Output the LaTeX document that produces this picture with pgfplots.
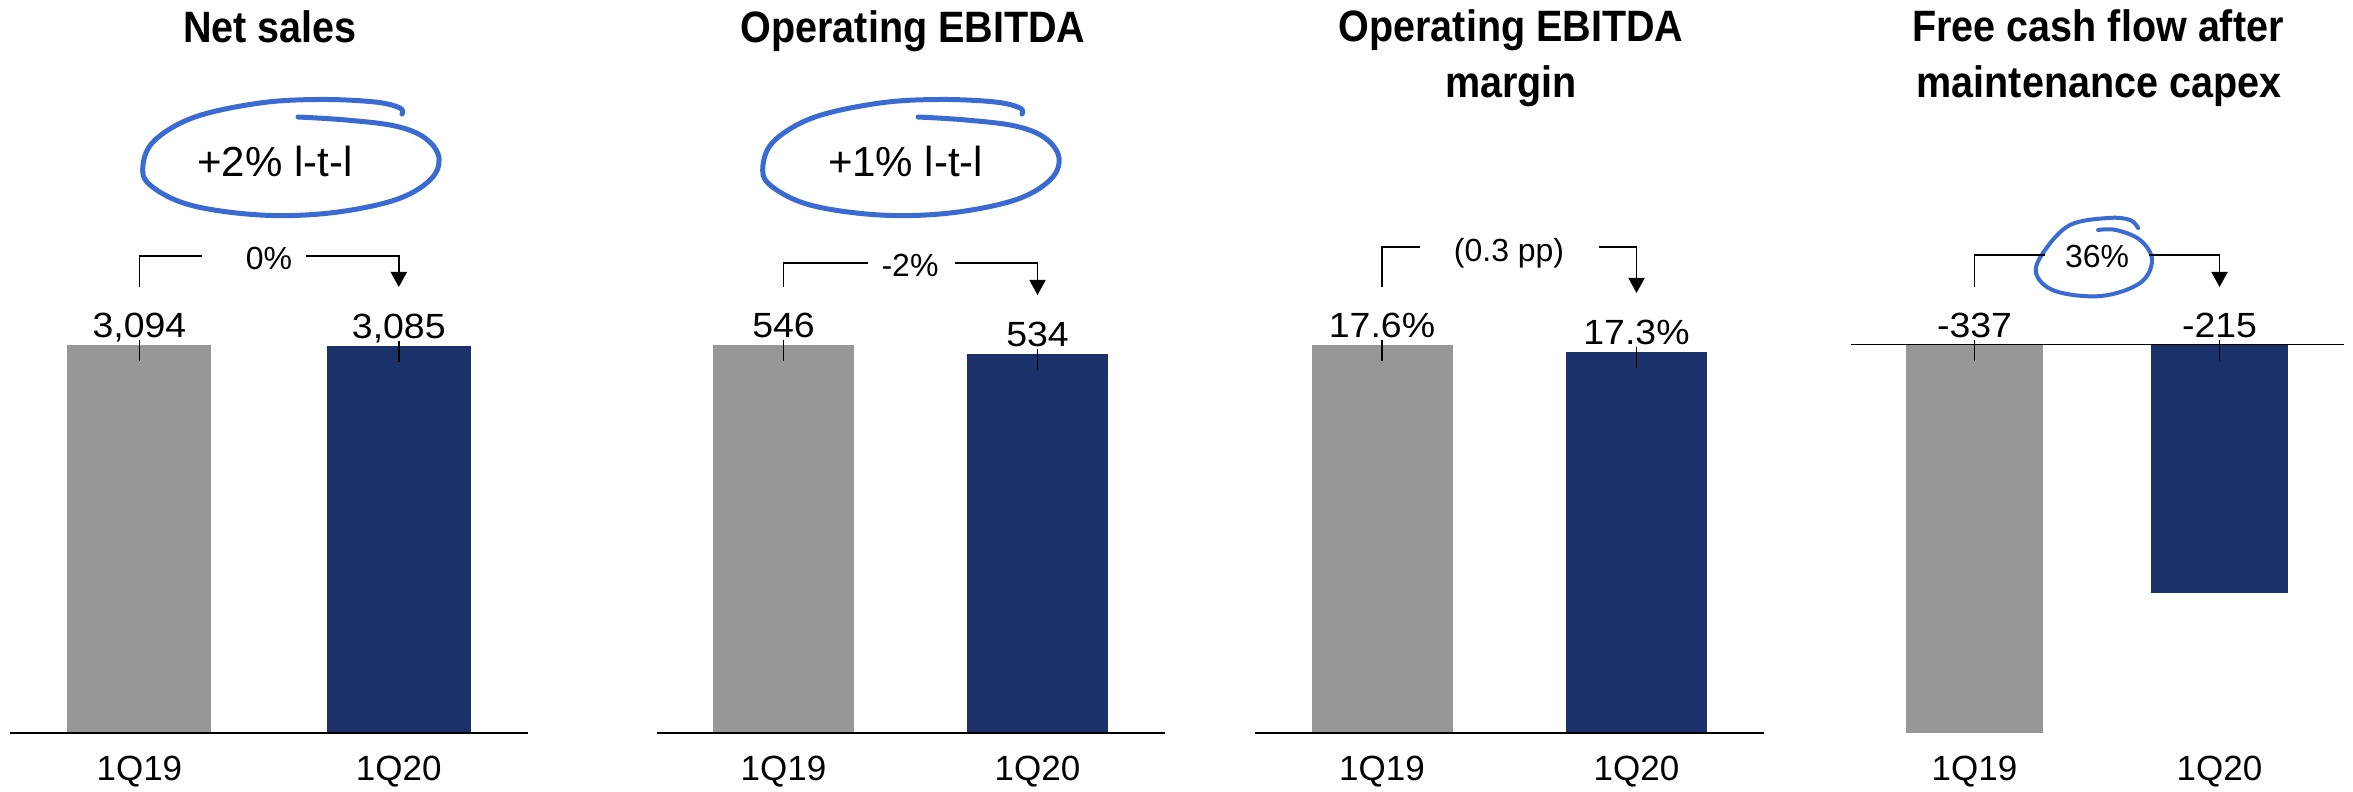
\documentclass[border=0pt]{standalone}
\usepackage{fontspec}
\setmainfont{Liberation Sans}
\newfontfamily\titlefont{Liberation Sans}[FakeStretch=0.9]
\newfontfamily\valfont{Liberation Sans}[FakeStretch=1.07]
\usepackage{pgfplots}
\pgfplotsset{compat=1.18}
\usetikzlibrary{arrows.meta}
\definecolor{bargray}{HTML}{979797}
\definecolor{barblue}{HTML}{1A3269}
\definecolor{pen}{HTML}{3A6BD3}
\newcommand{\tfont}{\titlefont\bfseries\fontsize{12.5}{15}\selectfont}
\newcommand{\vfont}{\valfont\fontsize{9.96}{12}\selectfont}
\newcommand{\cfont}{\fontsize{9.96}{12}\selectfont}
\newcommand{\efont}{\fontsize{11.95}{14}\selectfont}
\newcommand{\bfont}{\fontsize{9.1}{11}\selectfont}
\pgfplotsset{
  panel/.style={
    scale only axis, height=38.8mm, xmin=-0.5, xmax=1.5, enlargelimits=false, clip=false,
    axis line style={draw=none}, major tick length=0pt, ytick=\empty,
    xtick={0,1}, xticklabels={1Q19,1Q20},
    xticklabel style={anchor=base, yshift=-4.75mm, inner sep=0pt, font=\cfont},
    anchor=south west,
  },
  valmarks/.style={only marks, mark=|, mark size=1.05mm,
    mark options={yshift=-0.55mm, line width=0.15mm, draw=black},
    nodes near coords, point meta=explicit symbolic,
    every node near coord/.append style={anchor=base, yshift=1.3mm, inner sep=0pt, font=\vfont, text=black}},
  graybar/.style={ybar, bar shift=0pt, fill=bargray, draw=none},
  bluebar/.style={ybar, bar shift=0pt, fill=barblue, draw=none},
}
\tikzset{brk/.style={line width=0.18mm, line join=miter},
  brka/.style={line width=0.18mm, line join=miter, -{Triangle[width=1.6mm,length=1.5mm]}},
  pens/.style={draw=pen, line width=0.5mm, line cap=round, line join=round}}
\begin{document}
\begin{tikzpicture}
\useasboundingbox (0,0) rectangle (235.3mm,79.1mm);
% Panel 1
\begin{axis}[panel, at={(0.97mm,5.8mm)}, width=51.88mm, ymin=0, ymax=3094]
\addplot[graybar, bar width=14.4mm] coordinates {(0,3094)};
\addplot[bluebar, bar width=14.4mm] coordinates {(1,3085)};
\draw[line width=0.2mm] (axis cs:-0.5,0) -- (axis cs:1.5,0);
\addplot[valmarks] coordinates {(0,3094) [3,094] (1,3085) [3,085]};
\end{axis}
% Panel 2
\begin{axis}[panel, at={(65.65mm,5.8mm)}, width=50.8mm, ymin=0, ymax=546]
\addplot[graybar, bar width=14.1mm] coordinates {(0,546)};
\addplot[bluebar, bar width=14.1mm] coordinates {(1,534)};
\draw[line width=0.2mm] (axis cs:-0.5,0) -- (axis cs:1.5,0);
\addplot[valmarks] coordinates {(0,546) [546] (1,534) [534]};
\end{axis}
% Panel 3
\begin{axis}[panel, at={(125.475mm,5.8mm)}, width=50.9mm, ymin=0, ymax=17.6]
\addplot[graybar, bar width=14.1mm] coordinates {(0,17.6)};
\addplot[bluebar, bar width=14.1mm] coordinates {(1,17.3)};
\draw[line width=0.2mm] (axis cs:-0.5,0) -- (axis cs:1.5,0);
\addplot[valmarks] coordinates {(0,17.6) [17.6\%] (1,17.3) [17.3\%]};
\end{axis}
% Panel 4
\begin{axis}[panel, at={(185.2mm,5.8mm)}, width=49mm, ymin=-337, ymax=0]
\addplot[graybar, bar width=13.7mm] coordinates {(0,-337)};
\addplot[bluebar, bar width=13.7mm] coordinates {(1,-215)};
\draw[line width=0.1mm] (axis cs:-0.505,0) -- (axis cs:1.51,0);
\addplot[valmarks] coordinates {(0,0) [-337] (1,0) [-215]};
\end{axis}
% annotations in pixel coordinates (y downward)
\begin{scope}[yshift=79.1mm, x=0.1mm, y=-0.1mm]
% titles
\node[anchor=base, font=\tfont, inner sep=0pt] at (270,43) {Net sales};
\node[anchor=base, font=\tfont, inner sep=0pt] at (913,43) {Operating EBITDA};
\node[anchor=base, font=\tfont, inner sep=0pt] at (1511,42) {Operating EBITDA};
\node[anchor=base, font=\tfont, inner sep=0pt] at (1511,98) {margin};
\node[anchor=base, font=\tfont, inner sep=0pt] at (2098,42) {Free cash flow after};
\node[anchor=base, font=\tfont, inner sep=0pt] at (2099,98) {maintenance capex};
% hand-drawn ellipses
\foreach \dx in {0,620}{
  \begin{scope}[xshift=\dx*0.1mm]
  \draw[pens] plot[smooth, tension=0.6] coordinates {(298,117) (346,120) (395,126) (425,138) (439,158) (430,180) (395,200) (330,213) (260,215) (190,205) (150,185) (143,165) (155,140) (195,117) (260,103) (320,99.5) (375,102) (400,108) (402,114)};
  \end{scope}
}
\node[anchor=base, font=\efont, inner sep=0pt] at (275,177) {+2\% l-t-l};
\node[anchor=base, font=\efont, inner sep=0pt] at (905.6,177) {+1\% l-t-l};
\draw[pens, line width=0.4mm] plot[smooth, tension=0.6] coordinates {(2098,230) (2116,230) (2140,240) (2152,260) (2140,283) (2101,296) (2055,291) (2036,273) (2045,250) (2070,225) (2108,218) (2130,220) (2138,228)};
% brackets
\draw[brk] (139.4,287) -- (139.4,256) -- (202,256);
\draw[brka] (306,256) -- (398.8,256) -- (398.8,287);
\node[anchor=base, font=\bfont, inner sep=0pt] at (269,270) {0\%};
\draw[brk] (783.5,287) -- (783.5,263) -- (868,263);
\draw[brka] (954.6,263) -- (1037.5,263) -- (1037.5,295);
\node[anchor=base, font=\bfont, inner sep=0pt] at (910,277) {-2\%};
\draw[brk] (1382,287) -- (1382,247) -- (1420,247);
\draw[brka] (1599,247) -- (1636.5,247) -- (1636.5,293);
\node[anchor=base, font=\bfont, inner sep=0pt] at (1509,261.7) {(0.3 pp)};
\draw[brk] (1974.5,287) -- (1974.5,255) -- (2045,255);
\draw[brka] (2149,255) -- (2219.5,255) -- (2219.5,287);
\node[anchor=base, font=\bfont, inner sep=0pt] at (2097,268) {36\%};
\end{scope}
\end{tikzpicture}
\end{document}
